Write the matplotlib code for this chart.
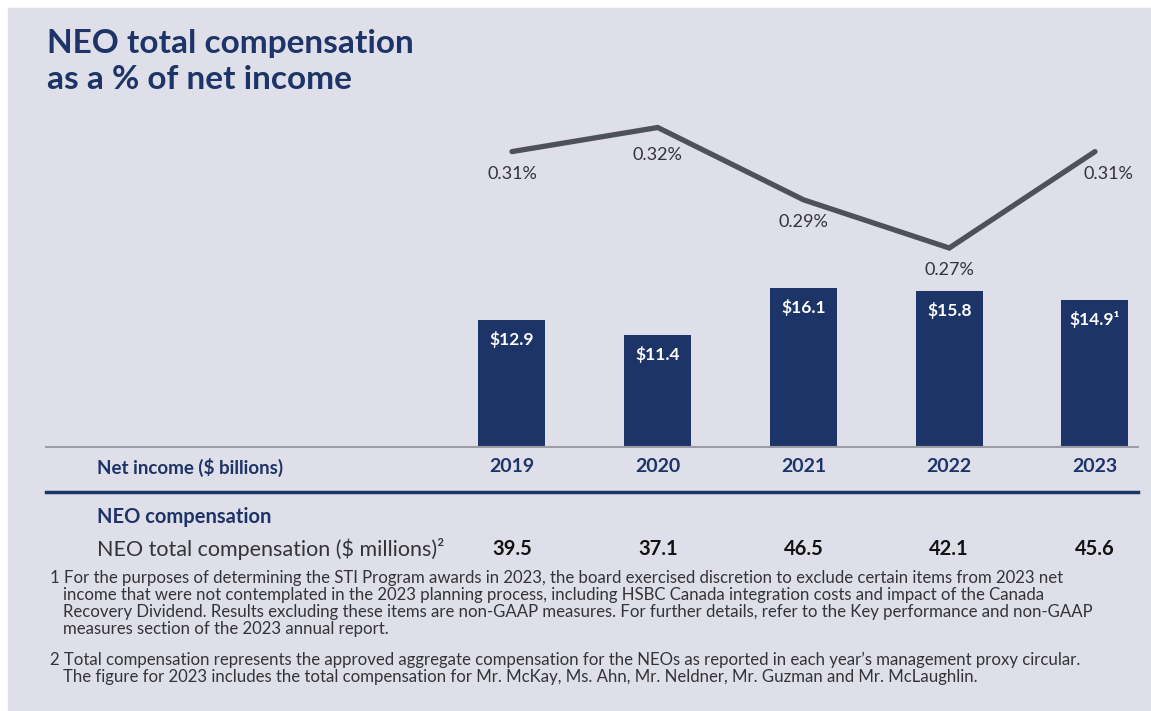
import matplotlib
matplotlib.use("Agg")
import matplotlib.pyplot as plt
from matplotlib.patches import Rectangle

# --- DATA ---
YEARS = ["2019", "2020", "2021", "2022", "2023"]
NET_INCOME = [12.9, 11.4, 16.1, 15.8, 14.9]           # $ billions
NET_INCOME_LABELS = ["$12.9", "$11.4", "$16.1", "$15.8", "$14.9\u00b9"]
PCT_OF_INCOME = [0.31, 0.32, 0.29, 0.27, 0.31]         # %
NEO_COMP = ["39.5", "37.1", "46.5", "42.1", "45.6"]    # $ millions

TITLE = "NEO total compensation\nas a % of net income"
FOOTNOTE_1 = [
    "1 For the purposes of determining the STI Program awards in 2023, the board exercised discretion to exclude certain items from 2023 net",
    "income that were not contemplated in the 2023 planning process, including HSBC Canada integration costs and impact of the Canada",
    "Recovery Dividend. Results excluding these items are non-GAAP measures. For further details, refer to the Key performance and non-GAAP",
    "measures section of the 2023 annual report.",
]
FOOTNOTE_2 = [
    "2 Total compensation represents the approved aggregate compensation for the NEOs as reported in each year\u2019s management proxy circular.",
    "The figure for 2023 includes the total compensation for Mr. McKay, Ms. Ahn, Mr. Neldner, Mr. Guzman and Mr. McLaughlin.",
]

# --- STYLE ---
BG = "#dfdfe9"
NAVY = "#1c3467"
LINE_GREY = "#4d5159"
TEXT_DARK = "#333338"
FONT = ["Lato", "DejaVu Sans"]
plt.rcParams["font.family"] = FONT

W, H = 1151, 711
fig = plt.figure(figsize=(W / 100, H / 100), dpi=100)
fig.patch.set_facecolor("white")
fig.patches.append(Rectangle((8 / W, 0), 1 - 8 / W, 1 - 8 / H,
                             transform=fig.transFigure, color=BG, zorder=-10))


def fx(px):
    return px / W


def fy(py):
    return 1 - py / H


# axes in pixel terms: x 46..1138, y 100..447
ax = fig.add_axes([fx(46), fy(447), fx(1138) - fx(46), (447 - 100) / H])
ax.set_facecolor("none")
x = list(range(len(YEARS)))
step = (1095 - 512) / 4
ax.set_xlim(-(512 - 46) / step, 4 + (1138 - 1095) / step)
ax.set_ylim(0, 347 / 9.86)
ax.bar(x, NET_INCOME, width=67 / step, color=NAVY, zorder=2)
for xi, v, lab in zip(x, NET_INCOME, NET_INCOME_LABELS):
    ax.annotate(lab, (xi, v), xytext=(0, -14), textcoords="offset points",
                ha="center", va="center", color="white", fontsize=12.5,
                fontweight="bold")
for s in ["top", "right", "left"]:
    ax.spines[s].set_visible(False)
ax.spines["bottom"].set_color("#9c9ca4")
ax.spines["bottom"].set_linewidth(1.5)
ax.set_xticks([])
ax.set_yticks([])

# line on twin axis
ax2 = ax.twinx()
ax2.set_ylim(0.32 - (447 - 127.5) / 2410, 0.32 + 27.5 / 2410)
ax2.plot(x, PCT_OF_INCOME, color=LINE_GREY, linewidth=3.8,
         solid_capstyle="round", solid_joinstyle="miter", zorder=3)
for i, (xi, v) in enumerate(zip(x, PCT_OF_INCOME)):
    dx = 10 if i == len(x) - 1 else 0
    dy = -20 if i == 1 else -16
    ax2.annotate(f"{v:.2f}%", (xi, v), xytext=(dx, dy), textcoords="offset points",
                 ha="center", va="center", color=TEXT_DARK, fontsize=13)
ax2.axis("off")

# title
fig.text(fx(47), fy(29), TITLE, ha="left", va="top", color=NAVY,
         fontsize=24, fontweight="bold", linespacing=1.3)

# table rows below the chart
fig.text(fx(97), fy(467), "Net income ($ billions)", ha="left", va="center",
         color=NAVY, fontsize=13.5, fontweight="bold")
for xi, yr in zip(x, YEARS):
    ax.text(xi, -20 / 347, yr, transform=ax.get_xaxis_transform(), ha="center",
            va="center", color=NAVY, fontsize=14, fontweight="bold")

fig.add_artist(plt.Line2D([fx(46), fx(1138)], [fy(492), fy(492)],
                          color=NAVY, linewidth=2.5, transform=fig.transFigure))

fig.text(fx(97), fy(517), "NEO compensation", ha="left", va="center",
         color=NAVY, fontsize=14.5, fontweight="bold")
fig.text(fx(97), fy(549), "NEO total compensation ($ millions)\u00b2", ha="left",
         va="center", color=TEXT_DARK, fontsize=15.5)
for xi, val in zip(x, NEO_COMP):
    ax.text(xi, -102 / 347, val, transform=ax.get_xaxis_transform(), ha="center",
            va="center", color="#111111", fontsize=14.5, fontweight="bold")

# footnotes
y0 = 578
for i, line in enumerate(FOOTNOTE_1):
    fig.text(fx(50 if i == 0 else 63), fy(y0 + i * 17), line, ha="left", va="center",
             color=TEXT_DARK, fontsize=12.1)
y0 = 660
for i, line in enumerate(FOOTNOTE_2):
    fig.text(fx(50 if i == 0 else 63), fy(y0 + i * 17), line, ha="left", va="center",
             color=TEXT_DARK, fontsize=12.1)

fig.savefig("out.png", dpi=100, facecolor=fig.get_facecolor())
